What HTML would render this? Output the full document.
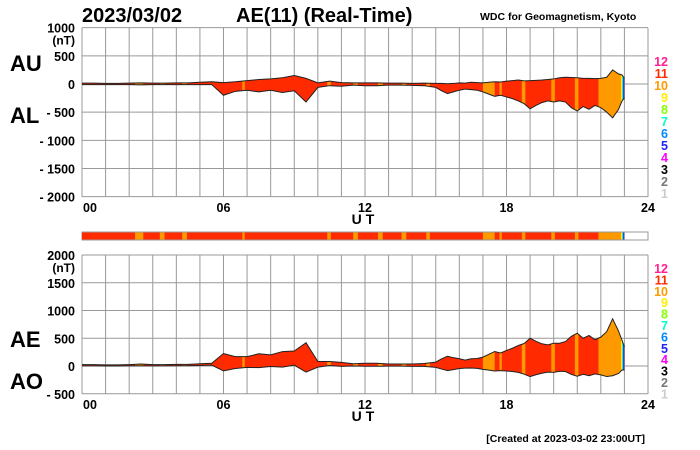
<!DOCTYPE html>
<html><head><meta charset="utf-8"><style>
body{margin:0;background:#fff}
svg{display:block;font-family:"Liberation Sans",sans-serif}
.b{font-weight:bold}
</style></head><body>
<svg id="c" width="700" height="450" viewBox="0 0 700 450">
<defs id="defs"></defs>
<text class="b" x="82" y="22" font-size="20">2023/03/02</text>
<text class="b" x="236" y="22" font-size="20">AE(11) (Real-Time)</text>
<text class="b" x="480" y="20" font-size="10.5">WDC for Geomagnetism, Kyoto</text>
<text class="b" x="10" y="71" font-size="22">AU</text>
<text class="b" x="10" y="123" font-size="22">AL</text>
<text class="b" x="10" y="347" font-size="22">AE</text>
<text class="b" x="10" y="389" font-size="22">AO</text>
<text class="b" x="645" y="442" font-size="10.5" text-anchor="end">[Created at 2023-03-02 23:00UT]</text>
<g id="g"></g>
</svg>
<script>
const times=[0,0.5,1,1.5,2,2.5,3,3.5,4,4.5,5,5.5,6,6.5,7,7.5,8,8.5,9,9.5,10,10.5,11,11.5,12,12.5,13,13.5,14,14.5,15,15.25,15.5,15.75,16,16.25,16.5,16.75,17,17.25,17.5,17.75,18,18.25,18.5,18.75,19,19.25,19.5,19.75,20,20.25,20.5,20.75,21,21.25,21.5,21.75,22,22.25,22.5,22.75,22.9,23.0];
const auValues=[15,15,10,10,15,20,15,15,20,20,30,40,25,40,60,80,90,110,150,100,20,50,25,20,20,20,15,15,10,15,10,10,5,10,20,15,30,25,20,30,40,35,50,60,70,55,60,65,70,80,90,110,120,115,110,100,100,95,100,120,250,180,160,100];
const alValues=[-10,-10,-10,-10,-10,-15,-10,-10,-10,-10,-10,-10,-200,-130,-110,-140,-110,-150,-120,-320,-60,-30,-40,-20,-30,-30,-20,-20,-25,-30,-60,-120,-170,-140,-110,-90,-100,-110,-140,-180,-220,-200,-230,-260,-300,-350,-440,-380,-330,-300,-320,-300,-320,-420,-480,-400,-450,-380,-420,-500,-600,-450,-300,-250];
const defaultStations=11;
const runStart=[2.25,3.3,4.25,6.8,10.4,11.5,12.55,13.55,14.6,17.0,17.7,18.65,19.9,20.9,21.9,22.85,22.9,22.95];
const runEnd=[2.6,3.5,4.45,6.9,10.55,11.7,12.75,13.75,14.75,17.5,17.8,18.8,20.05,21.05,22.85,22.9,22.95,23.0];
const runCount=[10,10,10,10,10,10,10,10,10,10,10,10,10,10,10,9,7,5];
const topTicks=[1000,500,0,-500,-1000,-1500,-2000];
const topTickLabels=["1000","500","0","- 500","- 1000","- 1500","- 2000"];
const botTicks=[2000,1500,1000,500,0,-500];
const botTickLabels=["2000","1500","1000","500","0","- 500"];
const hourLabels=["00","06","12","18","24"];
const legendNums=[12,11,10,9,8,7,6,5,4,3,2,1];
const colors={12:"#ff1f8f",11:"#ff2a00",10:"#ff9900",9:"#ffee00",8:"#88ff00",7:"#00ffcc",6:"#0088ff",5:"#2222ff",4:"#ff00ff",3:"#000",2:"#777",1:"#ccc"};
const NS="http://www.w3.org/2000/svg";const g=document.getElementById('g');const defs=document.getElementById('defs');
const X0=82,X1=648;const x=t=>X0+t*(X1-X0)/24;
const yT=v=>84-v*(169/3000);const yB=v=>366-v*(111/2000);
function el(tag,attrs,txt,parent){const e=document.createElementNS(NS,tag);for(const k in attrs)e.setAttribute(k,attrs[k]);if(txt!==undefined&&txt!==null)e.textContent=txt;(parent||g).appendChild(e);return e;}
function panel(top,bot,yf,ticks,labels,name,legTop,legStep){
  for(let h=0;h<=24;h++){const l=el('line',{x1:x(h),x2:x(h),y1:top,y2:bot,stroke:'#999','stroke-width':1});
    }
  ticks.forEach((v,i)=>{const l=el('line',{x1:X0,x2:X1,y1:yf(v),y2:yf(v),stroke:'#999','stroke-width':1});
    
    const t=el('text',{x:75,y:yf(v)+5,'font-size':12.5,'font-weight':'bold','text-anchor':'end'},labels[i]);
    });
  const n=el('text',{x:75,y:yf(ticks[0])+17,'font-size':12,'font-weight':'bold','text-anchor':'end'},'(nT)');
  
  hourLabels.forEach((s,i)=>{const t=el('text',{x:x(i*6)+(i==0?8:0),y:bot+15,'font-size':12.5,'font-weight':'bold','text-anchor':'middle'},s);
    });
  const u=el('text',{x:365,y:bot+27,'font-size':14,'font-weight':'bold','text-anchor':'middle','letter-spacing':'4'},'UT');
  
  legendNums.forEach((k,i)=>{const t=el('text',{x:668,y:legTop+i*legStep,'font-size':12.5,'font-weight':'bold','text-anchor':'end',fill:colors[k]},k);
    });
}
function fill(upper,lower,yf,name,top,bot){
  const pts=times.map((t,i)=>x(t)+','+yf(upper[i])).concat(times.slice().reverse().map((t,j)=>{const i=times.length-1-j;return x(t)+','+yf(lower[i]);})).join(' ');
  const cp=el('clipPath',{id:name+'-clip'},null,defs);
  el('polygon',{points:pts},null,cp);
  const a=el('polygon',{points:pts,fill:colors[defaultStations]});
  
  const sg=el('g',{'clip-path':'url(#'+name+'-clip)'});
  for(let i=0;i<runStart.length;i++){const r=el('rect',{x:x(runStart[i]),y:top,width:x(runEnd[i])-x(runStart[i]),height:bot-top,fill:colors[runCount[i]]},null,sg);
    }
  [upper,lower].forEach((arr,j)=>{const l=el('polyline',{points:times.map((t,i)=>x(t)+','+yf(arr[i])).join(' '),fill:'none',stroke:'#222','stroke-width':1});
    });
}
panel(28,197,yT,topTicks,topTickLabels,'top',66,12);
fill(auValues,alValues,yT,'au-al',28,197);
const ae=auValues.map((u,i)=>u-alValues[i]);const ao=auValues.map((u,i)=>(u+alValues[i])/2);
panel(255,394,yB,botTicks,botTickLabels,'bottom',273,11.4);
fill(ae,ao,yB,'ae-ao',255,394);
const bb=el('rect',{x:X0,y:232,width:X1-X0,height:8,fill:'#fff',stroke:'#999','stroke-width':1});

const base=el('rect',{x:X0,y:232.5,width:x(times[times.length-1])-X0,height:7,fill:colors[defaultStations]});

for(let i=0;i<runStart.length;i++){const r=el('rect',{x:x(runStart[i]),y:232.5,width:x(runEnd[i])-x(runStart[i]),height:7,fill:colors[runCount[i]]});
  }
</script>
</body></html>
